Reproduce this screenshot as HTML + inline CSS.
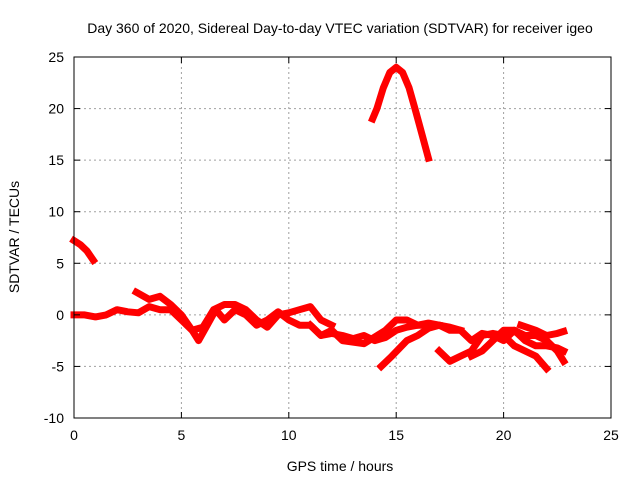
<!DOCTYPE html>
<html><head><meta charset="utf-8"><style>
body{margin:0;background:#fff}
svg{display:block;font-family:"Liberation Sans",sans-serif}
</style></head><body>
<svg id="chart" width="640" height="480">
<rect width="640" height="480" fill="#fff"/>
<text x="340" y="33" font-size="14" text-anchor="middle">Day 360 of 2020, Sidereal Day-to-day VTEC variation (SDTVAR) for receiver igeo</text>
<text x="340" y="471" font-size="14" text-anchor="middle">GPS time / hours</text>
<text transform="translate(19,237) rotate(-90)" font-size="14" text-anchor="middle">SDTVAR / TECUs</text>
<g id="grid"></g><g id="series"></g><g id="axes"></g>
</svg>
<script>
const xTicks=[0,5,10,15,20,25];
const yTicks=[-10,-5,0,5,10,15,20,25];
const sA_t=[0,0.3,0.6,0.9];
const sA_v=[7.2,6.8,6.2,5.3];
const sB_t=[13.9,14.1,14.4,14.7,15.0,15.3,15.6,15.9,16.2,16.5];
const sB_v=[19,20,22,23.5,24,23.5,22,19.8,17.5,15.2];
const sC_t=[0,0.5,1,1.5,2,2.5,3,3.5,4,4.5,5,5.5,5.8,6.2,6.6,7,7.5,8,8.5,9,9.5,10,10.5,11,11.5,12,12.5,13,13.5,14,14.5,15,15.5,16,16.5,17,17.5,18,18.5,19,19.5,20,20.5,21,21.5,22,22.5,22.8];
const sC_v=[0,0,-0.2,0,0.5,0.3,0.2,0.8,0.5,0.5,-0.5,-1.5,-2.5,-1,0.5,-0.5,0.5,0,-1,-0.5,0.3,-0.5,-1,-1,-2,-1.8,-2,-2.3,-2,-2.5,-2.2,-1.5,-1.2,-1,-1,-1,-1.5,-1.5,-2.5,-1.8,-2,-2.5,-1.5,-2.5,-3,-3,-3.2,-3.5];
const sD_t=[2.9,3.5,4,4.5,5,5.5,6,6.5,7,7.5,8,8.5,9,9.5,10,10.5,11,11.5,12];
const sD_v=[2.2,1.5,1.8,1,0,-1.5,-1.2,0.5,1,1,0.5,-0.5,-1.2,0,0.2,0.5,0.8,-0.5,-1];
const sE_t=[11,11.5,12,12.5,13.5,14.5,15,15.5,16,16.5,17];
const sE_v=[-1,-2,-1.5,-2.5,-2.8,-1.5,-0.5,-0.5,-1,-0.8,-1];
const sF_t=[14.3,14.8,15.5,16,16.5,17,17.5,18];
const sF_v=[-5,-4,-2.5,-2,-1.3,-1,-1.2,-1.5];
const sG_t=[17,17.5,18,18.5,19,19.5,20,20.5,21,21.5,22];
const sG_v=[-3.5,-4.5,-4,-3.5,-2,-1.8,-2,-3,-3.5,-4,-5.2];
const sH_t=[18.5,19,19.5,20,20.5,21,21.5,22,22.5,22.8];
const sH_v=[-4,-3.5,-2.5,-1.5,-1.5,-2,-2,-2.5,-3.5,-4.5];
const sI_t=[20.8,21.5,22,22.5,22.8];
const sI_v=[-1,-1.5,-2,-1.8,-1.6];
const ns="http://www.w3.org/2000/svg";
const L=74,R=611,T=57,B=418;
const X=t=>L+(t-0)/25*(R-L);
const Y=v=>B-(v+10)/35*(B-T);
const g=document.getElementById('grid'),ax=document.getElementById('axes'),sg=document.getElementById('series');
function mk(p,tag,a){const e=document.createElementNS(ns,tag);for(const k in a)e.setAttribute(k,a[k]);p.appendChild(e);return e;}
xTicks.forEach(t=>{
 const l=mk(g,'line',{x1:X(t),x2:X(t),y1:T,y2:B,stroke:'#a0a0a0','stroke-dasharray':'2,3'});
 
 
 mk(ax,'line',{x1:X(t),x2:X(t),y1:B,y2:B-6,stroke:'#000'});
 mk(ax,'line',{x1:X(t),x2:X(t),y1:T,y2:T+6,stroke:'#000'});
 const tx=mk(ax,'text',{x:X(t),y:B+22,'font-size':14,'text-anchor':'middle'});tx.textContent=t;
 
 
});
yTicks.forEach(v=>{
 const l=mk(g,'line',{x1:L,x2:R,y1:Y(v),y2:Y(v),stroke:'#a0a0a0','stroke-dasharray':'2,3'});
 
 
 mk(ax,'line',{x1:L,x2:L+6,y1:Y(v),y2:Y(v),stroke:'#000'});
 mk(ax,'line',{x1:R,x2:R-6,y1:Y(v),y2:Y(v),stroke:'#000'});
 const tx=mk(ax,'text',{x:L-10,y:Y(v)+5,'font-size':14,'text-anchor':'end'});tx.textContent=v;
 
 
});
const fr=mk(ax,'rect',{x:L,y:T,width:R-L,height:B-T,fill:'none',stroke:'#000'});


[[sA_t,sA_v],[sB_t,sB_v],[sC_t,sC_v],[sD_t,sD_v],[sE_t,sE_v],[sF_t,sF_v],[sG_t,sG_v],[sH_t,sH_v],[sI_t,sI_v]].forEach(([ts,vs])=>{
 const pts=ts.map((t,i)=>X(t).toFixed(1)+','+Y(vs[i]).toFixed(1)).join(' ');
 const p=mk(sg,'polyline',{points:pts,fill:'none',stroke:'#ff0000','stroke-width':7,'stroke-linejoin':'round','stroke-linecap':'square'});
 
 
});
</script>
</body></html>
